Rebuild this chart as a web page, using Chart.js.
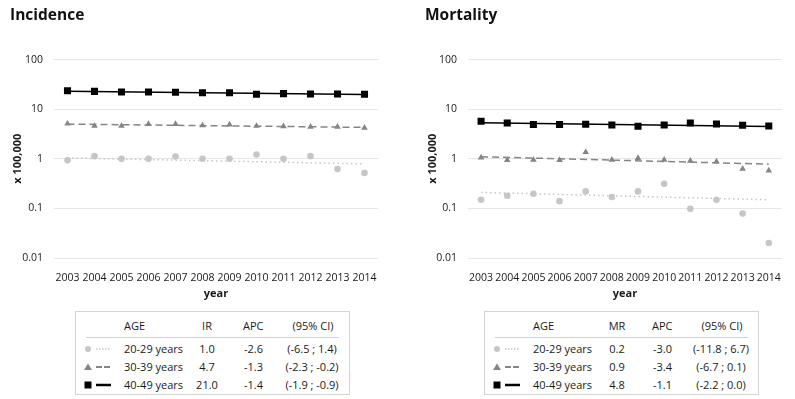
<!DOCTYPE html>
<html>
<head>
<meta charset="utf-8">
<script src="https://cdn.jsdelivr.net/npm/chart.js@4"></script>
<style>
  body { margin: 0; background: #fff; font-family: "Open Sans", sans-serif; color: #1a1a1a; }
  #wrap { position: relative; width: 795px; height: 399px; overflow: hidden; }
  canvas { position: absolute; top: 0; }
  .box { position: absolute; top: 311px; width: 273px; height: 82px; border: 1px solid #d4d4d4; font-size: 11px; }
  .box span { position: absolute; line-height: 14px; white-space: nowrap; }
  .sep { position: absolute; left: 10px; width: 253px; top: 25px; border-top: 1px solid #d0d0d0; }
  .c { transform: translateX(-50%); }
  svg { position: absolute; }
</style>
</head>
<body>
<div id="wrap">
  <canvas id="incid" width="397" height="300" style="left:0"></canvas>
  <canvas id="mort" width="397" height="300" style="left:398px"></canvas>
  <div class="box" id="boxIncid" style="left:75px"></div>
  <div class="box" id="boxMort" style="left:484px"></div>
</div>
<script>
const years = ['2003', '2004', '2005', '2006', '2007', '2008', '2009', '2010', '2011', '2012', '2013', '2014'];
const yTicks = [0.01, 0.1, 1, 10, 100];
const yTickLabels = ['0.01', '0.1', '1', '10', '100'];

// incidence per 100,000
const incid2029 = [0.93, 1.13, 1.0, 1.0, 1.11, 1.0, 1.0, 1.22, 1.0, 1.13, 0.62, 0.52];
const incid3039 = [5.1, 4.6, 4.6, 5.0, 5.0, 4.7, 4.9, 4.6, 4.5, 4.4, 4.4, 4.2];
const incid4049 = [23.6, 22.9, 22.2, 22.2, 21.9, 21.5, 21.5, 20.0, 20.6, 20.3, 20.3, 20.0];
// mortality per 100,000
const mort2029 = [0.149, 0.18, 0.198, 0.14, 0.22, 0.17, 0.22, 0.315, 0.098, 0.149, 0.079, 0.02];
const mort3039 = [1.06, 0.94, 0.95, 0.94, 1.36, 0.95, 1.03, 0.95, 0.91, 0.88, 0.63, 0.58];
const mort4049 = [5.7, 5.27, 4.9, 4.9, 4.96, 4.8, 4.52, 4.8, 5.27, 5.03, 4.73, 4.58];

// trend lines, value at 2003 and 2014
const trendYears = ['2003', '2014'];
const incidTrend2029 = [1.04, 0.79];
const incidTrend3039 = [5.0, 4.3];
const incidTrend4049 = [23.0, 19.7];
const mortTrend2029 = [0.21, 0.149];
const mortTrend3039 = [1.1, 0.78];
const mortTrend4049 = [5.35, 4.5];

// legend table rows
const ageGroups = ['20-29 years', '30-39 years', '40-49 years'];
const incidRate = ['1.0', '4.7', '21.0'];
const incidApc = ['-2.6', '-1.3', '-1.4'];
const incidCi = ['(-6.5 ; 1.4)', '(-2.3 ; -0.2)', '(-1.9 ; -0.9)'];
const mortRate = ['0.2', '0.9', '4.8'];
const mortApc = ['-3.0', '-3.4', '-1.1'];
const mortCi = ['(-11.8 ; 6.7)', '(-6.7 ; 0.1)', '(-2.2 ; 0.0)'];

const light = '#c6c6c6', mid = '#858585', dark = '#000000';

Chart.defaults.font.family = '"Open Sans", sans-serif';
Chart.defaults.color = '#1a1a1a';

function pts(vals) {
  return vals.map((v, i) => ({ x: years[i], y: v }));
}
function trend(vals) {
  return vals.map((v, i) => ({ x: trendYears[i], y: v }));
}

function makeChart(id, title, series, trends, pad, axisW) {
  const ctx = document.getElementById(id).getContext('2d');
  new Chart(ctx, {
    type: 'line',
    data: {
      labels: years,
      datasets: [
        { data: trend(trends[0]), borderColor: light, borderWidth: 1.5, borderDash: [1.5, 3], pointRadius: 0 },
        { data: trend(trends[1]), borderColor: mid, borderWidth: 1.5, borderDash: [7, 4], pointRadius: 0 },
        { data: trend(trends[2]), borderColor: dark, borderWidth: 1.5, pointRadius: 0 },
        { data: pts(series[0]), showLine: false, pointStyle: 'circle', pointRadius: 3.3, backgroundColor: light, borderColor: light, borderWidth: 0 },
        { data: pts(series[1]), showLine: false, pointStyle: 'triangle', pointRadius: 3.8, backgroundColor: mid, borderColor: mid, borderWidth: 0 },
        { data: pts(series[2]), showLine: false, pointStyle: 'rect', pointRadius: 5, backgroundColor: dark, borderColor: dark, borderWidth: 0 }
      ]
    },
    options: {
      responsive: false,
      animation: false,
      layout: { padding: { left: pad.left, right: pad.right, top: 0, bottom: 0 } },
      plugins: {
        legend: { display: false },
        tooltip: { enabled: false },
        title: {
          display: true, text: title, align: 'start', color: '#111',
          font: { size: 15.5, weight: 'bold' }, padding: { top: 6, bottom: 35 }
        }
      },
      scales: {
        x: {
          type: 'category',
          offset: true,
          grid: { display: false, drawTicks: false },
          border: { display: false },
          ticks: { font: { size: 10.5 }, padding: 14, maxRotation: 0, autoSkip: false },
          title: { display: true, text: 'year', font: { size: 11, weight: 'bold' }, padding: { top: 0, bottom: 0 } },
          afterFit: s => { s.height = 42; }
        },
        y: {
          type: 'logarithmic',
          min: 0.01, max: 100,
          grid: { color: '#e6e6e6', drawTicks: false },
          border: { display: false },
          afterBuildTicks: s => { s.ticks = yTicks.map(v => ({ value: v })); },
          ticks: { font: { size: 10.5 }, padding: 11, callback: v => yTickLabels[yTicks.indexOf(v)] },
          title: { display: true, text: 'x 100,000', font: { size: 11, weight: 'bold' }, padding: { top: 1, bottom: 0 } },
          afterFit: s => { s.width = axisW; }
        }
      }
    }
  });
}

makeChart('incid', 'Incidence', [incid2029, incid3039, incid4049],
  [incidTrend2029, incidTrend3039, incidTrend4049], { left: 10, right: 19 }, 44);
makeChart('mort', 'Mortality', [mort2029, mort3039, mort4049],
  [mortTrend2029, mortTrend3039, mortTrend4049], { left: 27, right: 5 }, 43);

// legend tables
const markers = [
  '<circle cx="6" cy="5" r="3" fill="' + light + '"/><line x1="14" y1="5" x2="29" y2="5" stroke="' + light + '" stroke-width="1.5" stroke-dasharray="1.5 1.5"/>',
  '<polygon points="6,1.5 10,8 2,8" fill="' + mid + '"/><line x1="14" y1="5" x2="29" y2="5" stroke="' + mid + '" stroke-width="2" stroke-dasharray="6 2"/>',
  '<rect x="2.5" y="1.5" width="7" height="7" fill="' + dark + '"/><line x1="14" y1="5" x2="29" y2="5" stroke="' + dark + '" stroke-width="2.5"/>'
];

function fillBox(id, rateLabel, rates, apcs, cis, rateX) {
  const box = document.getElementById(id);
  let html = '';
  const rowY = [30, 48, 66];
  html += '<span style="left:48px;top:7px">AGE</span>';
  html += '<span class="c" style="left:' + rateX + 'px;top:7px">' + rateLabel + '</span>';
  html += '<span style="left:167px;top:7px">APC</span>';
  html += '<span class="c" style="left:237px;top:7px">(95% CI)</span>';
  html += '<div class="sep"></div>';
  ageGroups.forEach((g, i) => {
    html += '<svg width="32" height="10" style="left:6px;top:' + (rowY[i] + 2) + 'px">' + markers[i] + '</svg>';
    html += '<span style="left:48px;top:' + rowY[i] + 'px">' + g + '</span>';
    html += '<span class="c" style="left:' + rateX + 'px;top:' + rowY[i] + 'px">' + rates[i] + '</span>';
    html += '<span style="left:168px;top:' + rowY[i] + 'px">' + apcs[i] + '</span>';
    html += '<span class="c" style="left:236px;top:' + rowY[i] + 'px">' + cis[i] + '</span>';
  });
  box.innerHTML = html;
}

fillBox('boxIncid', 'IR', incidRate, incidApc, incidCi, 131);
fillBox('boxMort', 'MR', mortRate, mortApc, mortCi, 132);
</script>
</body>
</html>
